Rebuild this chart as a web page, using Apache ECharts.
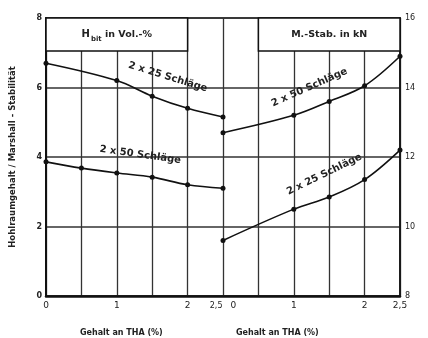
<!DOCTYPE html>
<html>
<head>
<meta charset="utf-8">
<script src="https://cdn.jsdelivr.net/npm/echarts@6/dist/echarts.min.js"></script>
<style>
  html, body { margin: 0; padding: 0; background: #fff; }
  #chart { width: 428px; height: 338px; }
</style>
</head>
<body>
<div id="chart"></div>
<script>
// x runs 0..5: left panel 0..2.5, right panel shifted by 2.5
const xTickLabels = { 0: '0', 1: '1', 2: '2', 2.5: '2,5|0', 3.5: '1', 4.5: '2', 5: '2,5' };
const leftYTicks = [0, 2, 4, 6, 8];
const rightYTicks = [8, 10, 12, 14, 16];

// left panel, H_bit in Vol.-% (left axis)
const hbit25 = [[0, 6.7], [1, 6.2], [1.5, 5.75], [2, 5.4], [2.5, 5.15]];
const hbit50 = [[0, 3.86], [0.5, 3.68], [1, 3.54], [1.5, 3.42], [2, 3.2], [2.5, 3.1]];
// right panel, M.-Stab. in kN (right axis), x = content + 2.5
const stab50 = [[2.5, 12.7], [3.5, 13.2], [4, 13.6], [4.5, 14.05], [5, 14.9]];
const stab25 = [[2.5, 9.6], [3.5, 10.5], [4, 10.85], [4.5, 11.35], [5, 12.2]];

const txt = '#222';
const font = 'DejaVu Sans';

const chart = echarts.init(document.getElementById('chart'));

function lineSeries(name, data, yIdx, extra) {
  return Object.assign({
    name: name,
    type: 'line',
    yAxisIndex: yIdx,
    data: data,
    smooth: 0.35,
    symbol: 'circle',
    symbolSize: 5,
    itemStyle: { color: '#111' },
    lineStyle: { color: '#111', width: 1.6 },
    z: 5
  }, extra || {});
}

function tag(text, x, y, rot) {
  return {
    coord: [x, y],
    symbol: 'circle',
    symbolSize: 0,
    label: {
      show: true,
      position: 'inside',
      formatter: text,
      rotate: rot,
      color: txt,
      fontFamily: font,
      fontSize: 10,
      fontWeight: 'bold'
    }
  };
}

chart.setOption({
  animation: false,
  grid: { left: 45, right: 28, top: 18, bottom: 42, show: true, borderColor: '#111', borderWidth: 1.5 },
  xAxis: {
    type: 'value',
    min: 0, max: 5, interval: 0.5,
    axisLine: { lineStyle: { color: '#111', width: 2.5 } },
    axisTick: { show: false },
    splitLine: { show: true, lineStyle: { color: '#333', width: 1.3 } },
    axisLabel: {
      color: txt, fontFamily: font, fontSize: 9, margin: 5,
      formatter: function (v) {
        const s = xTickLabels[v];
        if (!s) return '';
        if (s.indexOf('|') >= 0) {
          const p = s.split('|');
          return '{a|' + p[0] + '}{b|' + p[1] + '}';
        }
        return s;
      },
      rich: {
        a: { color: txt, fontFamily: font, fontSize: 8, padding: [0, 4, 0, 0] },
        b: { color: txt, fontFamily: font, fontSize: 9, padding: [0, 0, 0, 4] }
      }
    }
  },
  yAxis: [
    {
      type: 'value',
      min: leftYTicks[0], max: leftYTicks[leftYTicks.length - 1], interval: 2,
      name: 'Hohlraumgehalt / Marshall - Stabilität',
      nameLocation: 'middle',
      nameGap: 29,
      nameTextStyle: { color: txt, fontFamily: font, fontSize: 8.5, fontWeight: 'bold' },
      axisLine: { show: true, lineStyle: { color: '#111', width: 2 } },
      axisTick: { show: false },
      splitLine: { show: true, lineStyle: { color: '#333', width: 1.6 } },
      axisLabel: { color: txt, fontFamily: font, fontSize: 8, fontWeight: 'bold', margin: 4 }
    },
    {
      type: 'value',
      position: 'right',
      min: rightYTicks[0], max: rightYTicks[rightYTicks.length - 1], interval: 2,
      axisLine: { show: true, lineStyle: { color: '#111', width: 1.5 } },
      axisTick: { show: false },
      splitLine: { show: false },
      axisLabel: { color: txt, fontFamily: font, fontSize: 8, margin: 5 }
    }
  ],
  graphic: [
    { type: 'text', left: 80, top: 329, style: { text: 'Gehalt an THA (%)', fill: txt, font: 'bold 8px DejaVu Sans' } },
    { type: 'text', left: 236, top: 329, style: { text: 'Gehalt an THA (%)', fill: txt, font: 'bold 8px DejaVu Sans' } }
  ],
  series: [
    lineSeries('2 x 25 Schläge', hbit25, 0, {
      markArea: {
        silent: true,
        itemStyle: { color: '#fff', borderColor: '#111', borderWidth: 1.5 },
        label: { show: true, position: 'inside', color: txt, fontFamily: font, fontSize: 9.5, fontWeight: 'bold' },
        data: [
          [{ xAxis: 0, yAxis: 7.05, label: {
              formatter: '{h|H}{s|bit}{t| in Vol.-%}',
              rich: {
                h: { fontFamily: font, fontSize: 10, fontWeight: 'bold', color: txt },
                s: { fontFamily: font, fontSize: 7, fontWeight: 'bold', color: txt, padding: [9, 0, 0, 1] },
                t: { fontFamily: font, fontSize: 9.5, fontWeight: 'bold', color: txt }
              } } },
           { xAxis: 2, yAxis: 8 }],
          [{ xAxis: 3, yAxis: 7.05, name: 'M.-Stab. in kN', label: { formatter: 'M.-Stab. in kN' } },
           { xAxis: 5, yAxis: 8 }]
        ]
      },
      markPoint: { silent: true, data: [tag('2 x 25 Schläge', 1.72, 6.3, -17)] }
    }),
    lineSeries('2 x 50 Schläge', hbit50, 0, {
      markPoint: { silent: true, data: [tag('2 x 50 Schläge', 1.33, 4.06, -8)] }
    }),
    lineSeries('2 x 50 Schläge (Stab.)', stab50, 1, {
      markPoint: { silent: true, data: [tag('2 x 50 Schläge', 3.72, 14.0, 24)] }
    }),
    lineSeries('2 x 25 Schläge (Stab.)', stab25, 1, {
      markPoint: { silent: true, data: [tag('2 x 25 Schläge', 3.93, 11.5, 26)] }
    })
  ]
});
</script>
</body>
</html>
